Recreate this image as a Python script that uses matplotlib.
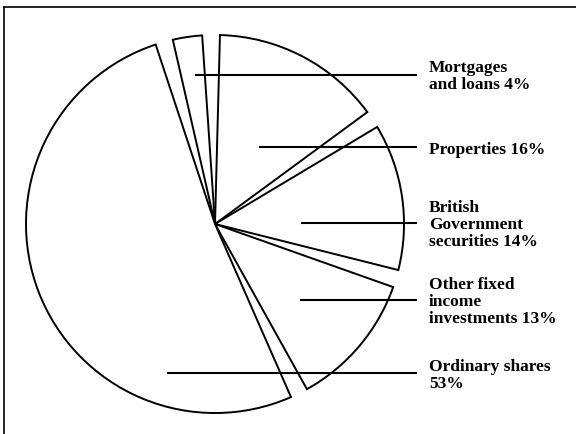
import matplotlib
matplotlib.use("Agg")
import matplotlib.pyplot as plt
from matplotlib.lines import Line2D

# Data (clockwise from the top)
categories = ["Mortgages\nand loans 4%", "Properties 16%",
              "British\nGovernment\nsecurities 14%",
              "Other fixed\nincome\ninvestments 13%",
              "Ordinary shares\n53%"]
shares = [4, 16, 14, 13, 53]

# Layout (data units, pie radius = 1)
label_y = [0.79, 0.405, 0.005, -0.402, -0.79]
leader_start_x = [-0.106, 0.233, 0.455, 0.45, -0.254]
leader_end_x = 1.069
text_x = 1.132
gap_deg = 5.4

fig = plt.figure(figsize=(5.76, 4.34), dpi=100)
ax = fig.add_axes([0, 0, 1, 1])

wedges, _ = ax.pie(shares, startangle=105.6, counterclock=False, radius=1.0,
                   wedgeprops=dict(facecolor="white", edgecolor="black",
                                   linewidth=1.4))
for w in wedges:
    w.set_theta1(w.theta1 + gap_deg / 2)
    w.set_theta2(w.theta2 - gap_deg / 2)

for lab, y, x0 in zip(categories, label_y, leader_start_x):
    ax.plot([x0, leader_end_x], [y, y], color="black", lw=1.5,
            solid_capstyle="butt")
    ax.text(text_x, y - 0.012, lab, ha="left", va="center",
            fontsize=12.5, family="Liberation Serif", fontweight="bold",
            linespacing=1.08, color="black")

ax.set_xlim(-1.1376, 1.910)
ax.set_ylim(-1.111, 1.185)
ax.set_aspect("auto")
ax.axis("off")

# Frame lines (top and left)
W, H = 576.0, 434.0
fig.add_artist(Line2D([4 / W, 1.0], [1 - 7 / H, 1 - 7 / H],
                      transform=fig.transFigure, color="black", lw=1.2))
fig.add_artist(Line2D([4 / W, 4 / W], [1 - 7 / H, 0.0],
                      transform=fig.transFigure, color="black", lw=1.2))

fig.savefig("out.png", dpi=100, facecolor="white")
